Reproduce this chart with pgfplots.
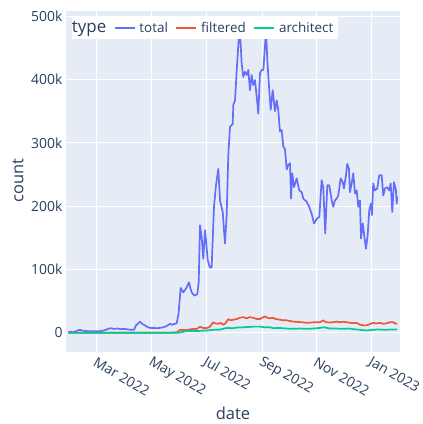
\documentclass[border=0pt]{standalone}
\usepackage{pgfplots}
\pgfplotsset{compat=1.18}
\usepackage{fontspec}
\setmainfont{Open Sans}
\definecolor{bg}{HTML}{E5ECF6}
\definecolor{txt}{HTML}{2A3F5F}
\definecolor{ctotal}{HTML}{636EFA}
\definecolor{cfilt}{HTML}{EF553B}
\definecolor{carch}{HTML}{00CC96}

\pgfplotstableread{
day val
27.4 1
30 2
33 1
36 3
40 5
44 3.5
48 3
52 2.5
56 3
60 2.5
63 3
67 4
70 5.5
74 7.6
78 6.5
82 7
86 6
90 6.5
94 5.5
98 5
100.5 5
102.7 12
105 15
107.2 18
110 14
112.7 12
116 9
119 8
122 8
126 7.5
129.4 8
133 9
137 11
140.5 14.5
143 13
146.1 14.5
148 15.5
150 30
152.4 71
155.3 64
158.3 70
160 75
161.7 80
163 72
164.7 64
167.6 59
170.9 61
172.5 80
173.9 170
175.8 151
177.6 117
179.5 162
181 140
182.5 115
185 103
186.9 104
189.5 199
191.7 233
194.3 259
196.2 209
199.2 191
201.7 141
203.6 186
205.4 280
207.3 325
210.3 330
211 360
212.9 367
214.8 415
216.5 452
217.9 482
219 460
220.3 425
222.1 404
224 412
225.9 407
227.7 415
229.5 383
231.4 407
233.2 391
235.1 399
237 373
238.8 346
240.7 410
242.6 415
244.4 415
246.2 452
247.4 478
248.8 431
251 383
252.6 352
254.8 383
257.4 350
259.3 367
261 352
262.9 318
264.8 320
266.6 294
268.5 290
270.4 258
272.2 265
274.1 268
275.2 212
276.6 252
278.5 230
281.5 244
284.4 225
287.1 222
288.9 212
292.6 207
295.5 199
298.2 188
300.8 173
303.8 180
306.7 183
309.3 241
311.1 230
313.3 157
315.6 233
317.8 233
320.5 209
322.2 199
324.1 209
326 212
327.8 217
330.5 244
332.7 238
334.1 228
336.4 249
337.8 267
339.7 259
340.8 222
342.7 236
344.5 252
346.4 220
348.3 225
350.1 199
351.9 209
353.1 149
355 173
356.7 154
358.6 133
360.5 154
362.3 194
364.2 204
365.3 186
366.7 236
368.6 225
371.2 228
373.4 249
376.1 249
377.9 217
379.8 228
382.3 230
384.6 225
386.1 236
387.9 191
389.8 238
392 225
392.8 204
393.4 215
}\total

\pgfplotstableread{
day val
27.4 0.3
60 0.5
100 0.3
140 0.5
148 0.8
151.7 5
159 4.5
166.5 6.6
170 6
173.9 10
177 8
181.4 7.6
185 10
188.7 17
191 15
194.3 14.5
197 16
199.8 13
202 15
205.4 22
208 20
211 21
215 22
218 24
222.1 25
226 23
229 25
233.2 24
237 22
240.7 22
243 24
246.2 26
249 24
251.8 23
255 24
258 22
262.9 21
266 20
270 20
274 19
277.7 18
282 17.5
287 17
292.6 16
297 16.5
302 17
307.4 17
311.1 20
314 17
318.6 16.5
322 17
326 18
329 17
333.4 17.7
337 17
341 16
344.5 15.5
348 16
352 13
356 12
359.4 12
363 14
366.7 16
370 15
374 16
377.9 14.5
381 15
385 17
389 17
391 15
393.4 14.5
}\filtered

\pgfplotstableread{
day val
27.4 0.2
100 0.3
150 0.5
159 3
170 3
181.4 4
188.7 5
195 5
203.6 8
210 7.5
215 8.5
222.1 9
228 9.5
233 10
240.7 10
246 9
252 9
255.5 7.6
262 8
270 7
277.7 6.6
285 7
292.6 6.5
300 7
307.4 8
312 9
318.6 7
325 7
333.4 6.6
340 7
345 6
352 5
359.4 4
366.7 5
372 5.5
380 5
386 5.5
393.4 5.5
}\architect

\begin{document}
\begin{tikzpicture}
\begin{axis}[
  name=ax,
  scale only axis, width=334bp, height=341bp,
  xmin=24.8, xmax=396.5, ymin=-30, ymax=508,
  axis background/.style={fill=bg},
  axis line style={draw=none},
  major tick length=0pt,
  grid=major, major grid style={white, line width=1bp},
  xtick={59,120,181,243,304,365},
  xticklabels={Mar 2022,May 2022,Jul 2022,Sep 2022,Nov 2022,Jan 2023},
  ytick={0,100,200,300,400,500},
  yticklabels={0,100k,200k,300k,400k,500k},
  /pgf/number format/assume math mode=true,
  tick label style={font=\fontsize{14}{16}\selectfont, text=txt},
  xticklabel style={xshift=-2bp, yshift=-9bp, rotate=-30, anchor=west, inner sep=0pt},
  xlabel={date}, ylabel={count},
  label style={font=\fontsize{16.5}{18}\selectfont, text=txt},
  xlabel style={at={(axis description cs:0.5,-0.179)}, anchor=center},
  ylabel style={at={(axis description cs:-0.1437,0.504)}, anchor=center},
  clip=false,
  legend style={at={(rel axis cs:0.017,0.983)}, anchor=north west, fill=white, draw=none,
    font=\fontsize{13.5}{15}\selectfont, text=txt, legend columns=-1,
    inner sep=3bp, column sep=2.5bp,
    /tikz/every even column/.append style={column sep=6bp},
    nodes={inner sep=1.5bp}},
  legend cell align=left,
  legend image code/.code={\draw[#1] (0bp,0bp) -- (20bp,0bp);},
  no markers,
]
\addlegendimage{empty legend}
\addlegendentry{\fontsize{17}{18}\selectfont\hspace*{-7bp}type}
\addplot[ctotal, line width=1.7bp, line join=round] table[x=day,y=val] {\total};
\addlegendentry{total}
\addplot[cfilt, line width=1.7bp, line join=round] table[x=day,y=val] {\filtered};
\addlegendentry{filtered}
\addplot[carch, line width=1.7bp, line join=round] table[x=day,y=val] {\architect};
\addlegendentry{architect}
\end{axis}
\path (ax.south west) ++(-66bp,-72bp) rectangle ++(423bp,424bp);
\end{tikzpicture}
\end{document}
